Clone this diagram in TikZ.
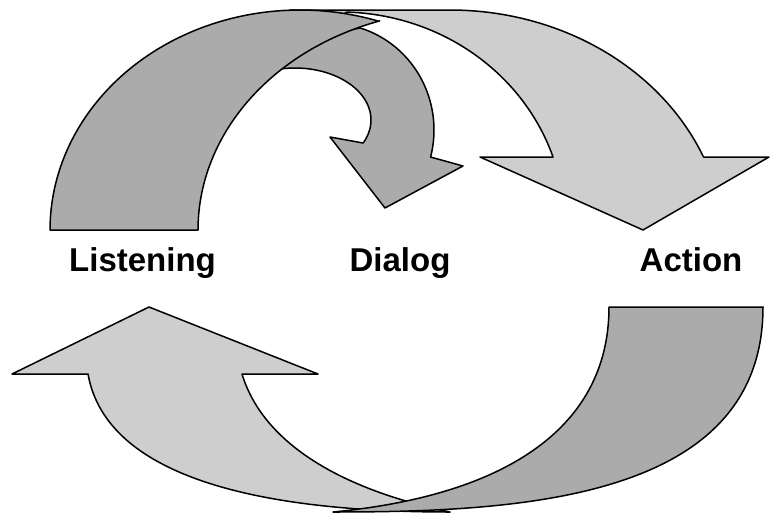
\documentclass[tikz,border=0pt]{standalone}
\usepackage{fontspec}
\setmainfont{Liberation Sans}
\definecolor{darkg}{RGB}{171,171,171}
\definecolor{lightg}{RGB}{206,206,206}
\tikzset{
  band/.style={draw=black, line width=1.5pt, line join=round},
  lbl/.style={font=\bfseries\fontsize{33}{36}\selectfont, anchor=base, inner sep=0pt}
}
\begin{document}
\begin{tikzpicture}[x=1pt,y=-1pt]
\useasboundingbox (0,0) rectangle (771,514);
% top light arrow (to Action)
\filldraw[band, fill=lightg] (290,25) -- (290,10) -- (450,10)
  -- plot[domain=90:22.8, samples=50, variable=\t] ({450+275*cos(\t)}, {250-240*sin(\t)})
  -- (769,157) -- (643,230) -- (480,157) -- (553,157)
  -- plot[domain=18.6:88.2, samples=50, variable=\t] ({340+224.8*cos(\t)}, {225-213*sin(\t)})
  -- (320,25) -- cycle;
% dialog arrow
\filldraw[band, fill=darkg] (283,68) -- (300,40) -- (360,28)
  -- plot[domain=73.2:-14.7, samples=50, variable=\t] ({330+104*cos(\t)}, {130-106.6*sin(\t)})
  -- (463,166) -- (385,208) -- (330,137) -- (363,143)
  -- plot[domain=-26.3:99.1, samples=50, variable=\t] ({295+76*cos(\t)}, {120-52*sin(\t)})
  -- cycle;
% listening crescent
\filldraw[band, fill=darkg] (50,230) -- (198,230)
  -- plot[domain=180:108.1, samples=60, variable=\t] ({461.6+263.6*cos(\t)}, {230-220*sin(\t)})
  -- plot[domain=71.6:180, samples=60, variable=\t] ({300+250*cos(\t)}, {230-220*sin(\t)})
  -- cycle;
% bottom light arrow (to Listening)
\filldraw[band, fill=lightg] (149,307) -- (318,374) -- (242,374)
  .. controls (262,440) and (335,488) .. (450,512)
  .. controls (240,512) and (105,470) .. (88,374)
  -- (12,374) -- cycle;
% bottom dark crescent
\filldraw[band, fill=darkg] (609,307) -- (763,307)
  .. controls (763,500) and (520,512) .. (333,512)
  .. controls (510,495) and (609,425) .. (609,307) -- cycle;
% labels
\node[lbl] (listening) at (142.5,271) {Listening};
\node[lbl] (dialog) at (400,271) {Dialog};
\node[lbl] (action) at (691,271) {Action};
\end{tikzpicture}
\end{document}
